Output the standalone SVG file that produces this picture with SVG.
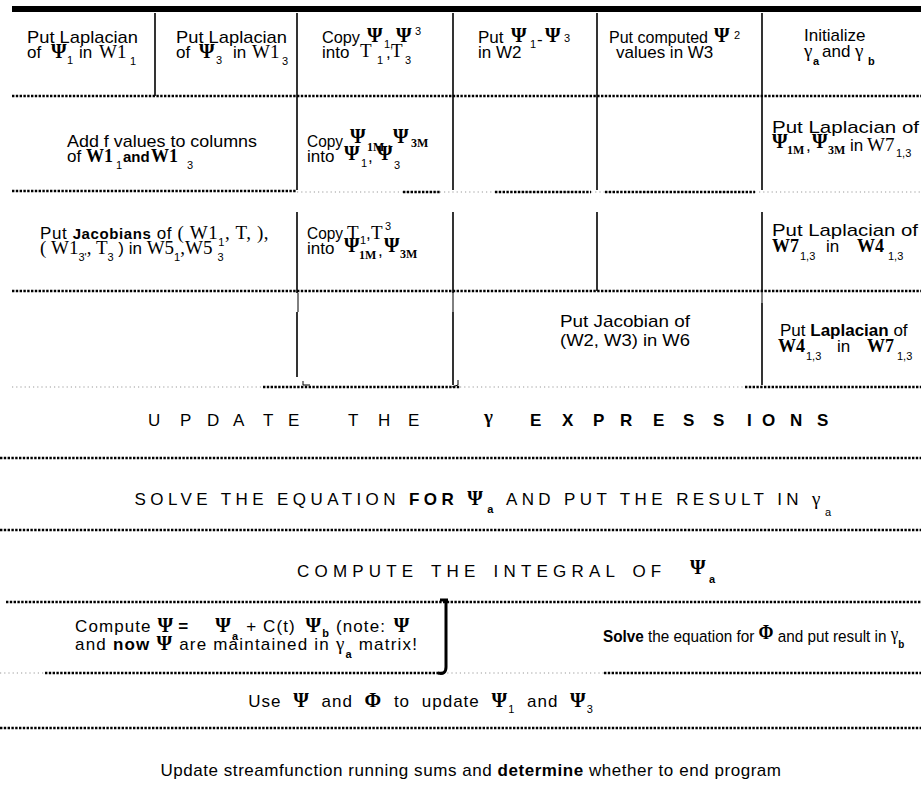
<svg xmlns="http://www.w3.org/2000/svg" width="921" height="786" viewBox="0 0 921 786">
<style>
text{font-family:"Liberation Sans",Arial,"Noto Sans",sans-serif;font-size:17px;fill:#000}
.gk{font-family:"Liberation Serif","Times New Roman",serif;font-weight:bold;font-size:20px}
.gm{font-family:"Liberation Serif","Times New Roman",serif;font-size:19px}
.sf{font-family:"Liberation Serif","Times New Roman",serif;font-weight:bold;font-size:18px}
.sr{font-family:"Liberation Serif","Times New Roman",serif;font-size:19px}
.sub{font-size:11px}
.ssf{font-family:"Liberation Serif","Times New Roman",serif;font-weight:bold;font-size:12px}
.b{font-weight:bold}
.dl{stroke:#000;stroke-width:2.4;stroke-dasharray:2.4 1.4;fill:none}
.fl{stroke:#999;stroke-width:1.2;stroke-dasharray:1.2 3;fill:none}
.vl{stroke:#000;stroke-width:1.6;fill:none}
.tk{stroke:#000;stroke-width:1;fill:none}
</style>
<rect width="921" height="786" fill="#fff"/>
<rect x="12" y="6" width="909" height="6" fill="#000"/>
<g id="connectors">
  <line class="dl" x1="12" y1="96" x2="921" y2="96"/>
  <line class="dl" x1="12" y1="191" x2="297" y2="191"/>
  <line class="fl" x1="297" y1="192" x2="921" y2="192"/>
  <line class="dl" x1="403" y1="192" x2="440" y2="192"/>
  <line class="dl" x1="495" y1="192" x2="591" y2="192"/>
  <line class="dl" x1="605" y1="192" x2="755" y2="192"/>
  <line class="dl" x1="12" y1="291" x2="921" y2="291"/>
  <line class="fl" x1="12" y1="387" x2="263" y2="387"/>
  <line class="dl" x1="263" y1="387" x2="460" y2="387"/>
  <line class="fl" x1="460" y1="387" x2="745" y2="387"/>
  <line class="dl" x1="745" y1="387" x2="921" y2="387"/>
  <line class="dl" x1="0" y1="458" x2="921" y2="458"/>
  <line class="dl" x1="0" y1="530" x2="921" y2="530"/>
  <line class="dl" x1="6" y1="602" x2="921" y2="602"/>
  <line class="fl" x1="0" y1="673" x2="45" y2="673"/>
  <line class="dl" x1="45" y1="673" x2="443" y2="673"/>
  <line class="fl" x1="443" y1="673" x2="604" y2="673"/>
  <line class="dl" x1="604" y1="673" x2="921" y2="673"/>
  <line class="dl" x1="0" y1="728" x2="921" y2="728"/>
  <line class="vl" x1="155" y1="13" x2="155" y2="96"/>
  <line class="vl" x1="297" y1="13" x2="297" y2="190"/>
  <line class="vl" x1="453" y1="13" x2="453" y2="190"/>
  <line class="vl" x1="597" y1="13" x2="597" y2="190"/>
  <line class="vl" x1="762" y1="13" x2="762" y2="190"/>
  <line class="vl" x1="297" y1="212" x2="297" y2="293"/>
  <line class="vl" x1="453" y1="212" x2="453" y2="293"/>
  <line class="vl" x1="597" y1="212" x2="597" y2="291"/>
  <line class="vl" x1="762" y1="212" x2="762" y2="291"/>
  <line class="tk" x1="298" y1="293" x2="298" y2="312"/>
  <line class="tk" x1="453" y1="293" x2="453" y2="312"/>
  <line class="tk" x1="762" y1="291" x2="762" y2="303"/>
  <line class="vl" x1="297" y1="312" x2="297" y2="377"/>
  <line class="vl" x1="453" y1="312" x2="453" y2="385"/>
  <line class="vl" x1="762" y1="303" x2="762" y2="385"/>
  <path class="tk" d="M303,381 L303,385 L310,385 M458,380 L458,385 L452,387"/>
  <path d="M440,600 L448,600 M446,600 L446,667 Q446,675 438,673" stroke="#000" stroke-width="3" fill="none"/>
</g>

<g id="n1">
  <text x="27" y="43" textLength="111" lengthAdjust="spacingAndGlyphs">Put Laplacian</text>
  <text y="58"><tspan x="27">of</tspan><tspan x="51" class="gk">Ψ</tspan><tspan x="67" y="64" class="sub">1</tspan><tspan x="79" y="58">in</tspan><tspan x="99" class="sr">W1</tspan><tspan x="130" y="65" class="sub">1</tspan></text>
</g>
<g id="n2">
  <text x="176" y="43" textLength="111" lengthAdjust="spacingAndGlyphs">Put Laplacian</text>
  <text y="58"><tspan x="176">of</tspan><tspan x="199" class="gk">Ψ</tspan><tspan x="216" y="64" class="sub">3</tspan><tspan x="233" y="58">in</tspan><tspan x="252" class="sr">W1</tspan><tspan x="282" y="65" class="sub">3</tspan></text>
</g>
<g id="n3">
  <text x="322" y="43" textLength="38" lengthAdjust="spacingAndGlyphs">Copy</text>
  <text y="43"><tspan x="367" y="42" class="gk">Ψ</tspan><tspan x="384" y="48" class="sub">1,</tspan><tspan x="396" y="42" class="gk">Ψ</tspan><tspan x="415" y="35" class="sub">3</tspan></text>
  <text y="58"><tspan x="322">into</tspan><tspan x="360" y="57" class="sr">T</tspan><tspan x="377" y="64" class="sub">1</tspan><tspan x="386" y="58">,</tspan><tspan x="391" y="57" class="sr">T</tspan><tspan x="405" y="64" class="sub">3</tspan></text>
</g>
<g id="n4">
  <text y="43"><tspan x="478">Put</tspan><tspan x="511" y="42" class="gk">Ψ</tspan><tspan x="530" y="48" class="sub">1</tspan><tspan x="537" y="45">-</tspan><tspan x="545" y="42" class="gk">Ψ</tspan><tspan x="564" y="42" class="sub">3</tspan></text>
  <text x="478" y="58">in W2</text>
</g>
<g id="n5">
  <text x="609" y="43" font-size="16" textLength="99" lengthAdjust="spacingAndGlyphs">Put computed</text>
  <text y="42"><tspan x="714" class="gk">Ψ</tspan><tspan x="734" y="39" class="sub">2</tspan></text>
  <text x="616" y="58" font-size="16">values in W3</text>
</g>
<g id="n6">
  <text x="804" y="41" font-size="15.5">Initialize</text>
  <text y="57"><tspan x="804" class="gm">γ</tspan><tspan x="813" y="65" class="sub b">a</tspan><tspan x="822" y="57">and</tspan><tspan x="855" class="gm">γ</tspan><tspan x="868" y="65" class="sub b">b</tspan></text>
</g>

<g id="n7">
  <text x="67" y="147" textLength="190" lengthAdjust="spacingAndGlyphs">Add f values to columns</text>
  <text y="162"><tspan x="67">of</tspan><tspan x="86" class="sf" font-size="19">W1</tspan><tspan x="116" y="169" class="sub">1</tspan><tspan x="123" y="162" class="b" font-size="15">and</tspan><tspan x="151" class="sf" font-size="19">W1</tspan><tspan x="187" y="169" class="sub">3</tspan></text>
</g>
<g id="n8">
  <text x="307" y="147" textLength="36" lengthAdjust="spacingAndGlyphs">Copy</text>
  <text y="143"><tspan x="350" class="gk">Ψ</tspan><tspan x="367" y="151" class="ssf">1M</tspan><tspan x="387" y="147">,</tspan><tspan x="393" y="143" class="gk">Ψ</tspan><tspan x="411" y="147" class="ssf">3M</tspan></text>
  <text y="162"><tspan x="307">into</tspan><tspan x="344" y="160" class="gk">Ψ</tspan><tspan x="361" y="167" class="sub">1</tspan><tspan x="368" y="162">,</tspan><tspan x="377" y="160" class="gk">Ψ</tspan><tspan x="394" y="169" class="sub">3</tspan></text>
</g>
<g id="n9">
  <text x="772" y="133" textLength="147" lengthAdjust="spacingAndGlyphs">Put Laplacian of</text>
  <text y="150"><tspan x="772" y="148" class="gk">Ψ</tspan><tspan x="787" y="154" class="ssf">1M</tspan><tspan x="806" y="151">,</tspan><tspan x="812" y="148" class="gk">Ψ</tspan><tspan x="828" y="154" class="ssf">3M</tspan><tspan x="850" y="151">in</tspan><tspan x="867" class="sr" font-size="17">W7</tspan><tspan x="896" y="157" class="sub">1,3</tspan></text>
</g>

<g id="n10">
  <text x="40" y="239" font-size="18" letter-spacing="0.6">Put <tspan class="b" font-size="15">Jacobians</tspan> of <tspan class="sr">(</tspan> <tspan class="sr">W1</tspan><tspan class="sub" dy="7">1</tspan><tspan class="sr" dy="-7">, T, ),</tspan></text>
  <text x="40" y="254" font-size="18"><tspan class="sr">(</tspan> <tspan class="sr">W1</tspan><tspan class="sub" dy="7">3'</tspan><tspan class="sr" dy="-7">, T</tspan><tspan class="sub" dy="7">3</tspan><tspan dy="-7"> ) in </tspan><tspan class="sr">W5</tspan><tspan class="sub" dy="7">1</tspan><tspan class="sr" dy="-7">,</tspan><tspan class="sr">W5</tspan><tspan class="sub" dy="7" dx="5">3</tspan></text>
</g>
<g id="n11">
  <text x="307" y="239" textLength="36" lengthAdjust="spacingAndGlyphs">Copy</text>
  <text y="239"><tspan x="347" class="sr">T</tspan><tspan x="360" y="244" class="sub">1</tspan><tspan x="366" y="239">,</tspan><tspan x="371" class="sr">T</tspan><tspan x="385" y="230" class="sub">3</tspan></text>
  <text y="254"><tspan x="307">into</tspan><tspan x="344" y="252" class="gk">Ψ</tspan><tspan x="359" y="259" class="ssf">1M</tspan><tspan x="378" y="256">,</tspan><tspan x="384" y="252" class="gk">Ψ</tspan><tspan x="400" y="258" class="ssf">3M</tspan></text>
</g>
<g id="n12">
  <text x="772" y="236" textLength="146" lengthAdjust="spacingAndGlyphs">Put Laplacian of</text>
  <text y="252"><tspan x="772" class="sf" font-size="17">W7</tspan><tspan x="800" y="260" class="sub">1,3</tspan><tspan x="826" y="252">in</tspan><tspan x="857" class="sf" font-size="17">W4</tspan><tspan x="888" y="260" class="sub">1,3</tspan></text>
</g>

<g id="n13">
  <text x="560" y="327" font-size="18" textLength="130" lengthAdjust="spacingAndGlyphs">Put Jacobian of</text>
  <text x="560" y="346" font-size="18" textLength="130" lengthAdjust="spacingAndGlyphs">(W2, W3) in W6</text>
</g>
<g id="n14">
  <text x="780" y="336" font-size="17.5">Put <tspan class="b">Laplacian</tspan> of</text>
  <text y="352"><tspan x="778" class="sf" font-size="17">W4</tspan><tspan x="806" y="360" class="sub">1,3</tspan><tspan x="837" y="352">in</tspan><tspan x="867" class="sf" font-size="17">W7</tspan><tspan x="897" y="360" class="sub">1,3</tspan></text>
</g>

<g id="n15">
  <text x="148 180 207 233 263 288" y="426" font-size="19">UPDATE</text>
  <text x="348 378 408" y="426" font-size="19">THE</text>
  <text x="484" y="423" class="gm" font-weight="bold">γ</text>
  <text x="530 562 593 620 653 683 713 747 762 790 817" y="426" class="b" font-size="16">EXPRESSIONS</text>
</g>
<g id="n16">
  <text x="485" y="505" font-size="22" letter-spacing="4.4" text-anchor="middle">SOLVE THE EQUATION <tspan class="b">FOR</tspan> <tspan class="gk" font-size="22">Ψ</tspan><tspan class="sub b" dy="8">a</tspan><tspan dy="-8"> AND PUT THE RESULT IN </tspan><tspan class="gm" font-size="21">γ</tspan><tspan class="sub" font-size="13" dy="11">a</tspan></text>
</g>
<g id="n17">
  <text x="297" y="577" font-size="20" letter-spacing="5.2" word-spacing="3">COMPUTE THE INTEGRAL OF</text>
  <text x="690" y="574" class="gk" font-size="21">Ψ</text>
  <text x="709" y="583" class="sub b">a</text>
</g>
<g id="n18">
  <text x="75" y="632" font-size="20" letter-spacing="1.1">Compute <tspan class="gk" font-size="21">Ψ</tspan><tspan class="b" dx="4">=</tspan><tspan class="gk" font-size="21" dx="26">Ψ</tspan><tspan class="sub b" dy="8">a</tspan><tspan dy="-8" dx="7">+ C(t) </tspan><tspan class="gk" font-size="21" dx="4">Ψ</tspan><tspan class="sub b" dy="5">b</tspan><tspan dy="-5"> (note: </tspan><tspan class="gk" font-size="21" dx="2">Ψ</tspan></text>
  <text x="75" y="650" font-size="20" letter-spacing="1.2">and <tspan class="b">now</tspan> <tspan class="gk" font-size="21">Ψ</tspan> are maintained in <tspan class="gm" font-size="20">γ</tspan><tspan class="sub b" dy="8">a</tspan><tspan dy="-8"> matrix!</tspan></text>
</g>
<g id="n19">
  <text transform="translate(603,642) scale(0.9,1)" x="0" y="0" font-size="16"><tspan class="b">Solve</tspan> the equation for <tspan class="gk" dy="-3">Φ</tspan><tspan dy="3"> and put result in </tspan><tspan class="gm" dy="-2">γ</tspan><tspan class="sub b" dy="8">b</tspan></text>
</g>
<g id="n20">
  <text x="421" y="707" font-size="19" letter-spacing="1" word-spacing="6" text-anchor="middle">Use <tspan class="gk" font-size="21">Ψ</tspan> and <tspan class="gk" font-size="21">Φ</tspan> to update <tspan class="gk" font-size="21">Ψ</tspan><tspan class="sub" dy="6">1</tspan><tspan dy="-6"> and </tspan><tspan class="gk" font-size="21">Ψ</tspan><tspan class="sub" dy="6">3</tspan></text>
</g>
<g id="n21">
  <text x="471" y="776" font-size="19.5" letter-spacing="0.55" text-anchor="middle">Update streamfunction running sums and <tspan class="b">determine</tspan> whether to end program</text>
</g>
</svg>
